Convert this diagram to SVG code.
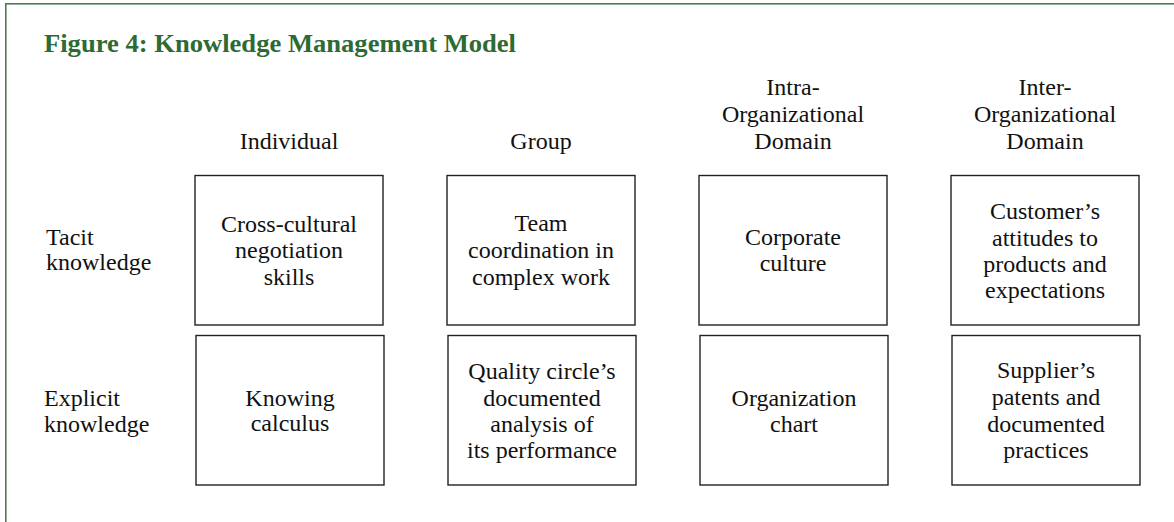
<svg xmlns="http://www.w3.org/2000/svg" width="1174" height="522" viewBox="0 0 1174 522">
<style>
.frame{fill:none;stroke:#4b7f4f;stroke-width:1.6}
.title{font-family:"Liberation Serif",serif;font-weight:bold;font-size:26px;fill:#2e6a34}
.t{font-family:"Liberation Serif",serif;font-size:24px;fill:#111}
.c{text-anchor:middle}
.box{fill:#fff;stroke:#222;stroke-width:1.4}
</style>
<rect x="0" y="0" width="1174" height="522" fill="#fff"/>
<rect class="frame" x="5.8" y="3.8" width="1200" height="600"/>
<text class="title" x="44" y="52" textLength="472" lengthAdjust="spacingAndGlyphs">Figure 4: Knowledge Management Model</text>
<g id="col-headers">
<text class="t c" x="289" y="149">Individual</text>
<text class="t c" x="541" y="149">Group</text>
<text class="t c" x="793" y="95">Intra-</text>
<text class="t c" x="793" y="122">Organizational</text>
<text class="t c" x="793" y="149">Domain</text>
<text class="t c" x="1045" y="95">Inter-</text>
<text class="t c" x="1045" y="122">Organizational</text>
<text class="t c" x="1045" y="149">Domain</text>
</g>
<g id="row-headers">
<text class="t" x="46" y="245">Tacit</text>
<text class="t" x="46" y="270">knowledge</text>
<text class="t" x="44" y="406">Explicit</text>
<text class="t" x="44" y="432">knowledge</text>
</g>
<g id="tacit-individual">
<rect class="box" x="195" y="175.5" width="188" height="149.5"/>
<text class="t c" x="289" y="232">Cross-cultural</text>
<text class="t c" x="289" y="258">negotiation</text>
<text class="t c" x="289" y="285">skills</text>
</g>
<g id="tacit-group">
<rect class="box" x="447" y="175.5" width="188" height="149.5"/>
<text class="t c" x="541" y="231">Team</text>
<text class="t c" x="541" y="258">coordination in</text>
<text class="t c" x="541" y="285">complex work</text>
</g>
<g id="tacit-intra">
<rect class="box" x="699" y="175.5" width="188" height="149.5"/>
<text class="t c" x="793" y="245">Corporate</text>
<text class="t c" x="793" y="271">culture</text>
</g>
<g id="tacit-inter">
<rect class="box" x="951" y="175.5" width="188" height="149.5"/>
<text class="t c" x="1045" y="219">Customer’s</text>
<text class="t c" x="1045" y="246">attitudes to</text>
<text class="t c" x="1045" y="272">products and</text>
<text class="t c" x="1045" y="298">expectations</text>
</g>
<g id="explicit-individual">
<rect class="box" x="196" y="335.5" width="188" height="149.5"/>
<text class="t c" x="290" y="406">Knowing</text>
<text class="t c" x="290" y="431">calculus</text>
</g>
<g id="explicit-group">
<rect class="box" x="448" y="335.5" width="188" height="149.5"/>
<text class="t c" x="542" y="379">Quality circle’s</text>
<text class="t c" x="542" y="406">documented</text>
<text class="t c" x="542" y="432">analysis of</text>
<text class="t c" x="542" y="458">its performance</text>
</g>
<g id="explicit-intra">
<rect class="box" x="700" y="335.5" width="188" height="149.5"/>
<text class="t c" x="794" y="406">Organization</text>
<text class="t c" x="794" y="432">chart</text>
</g>
<g id="explicit-inter">
<rect class="box" x="952" y="335.5" width="188" height="149.5"/>
<text class="t c" x="1046" y="378">Supplier’s</text>
<text class="t c" x="1046" y="405">patents and</text>
<text class="t c" x="1046" y="432">documented</text>
<text class="t c" x="1046" y="458">practices</text>
</g>
<g id="connectors"></g>
</svg>
